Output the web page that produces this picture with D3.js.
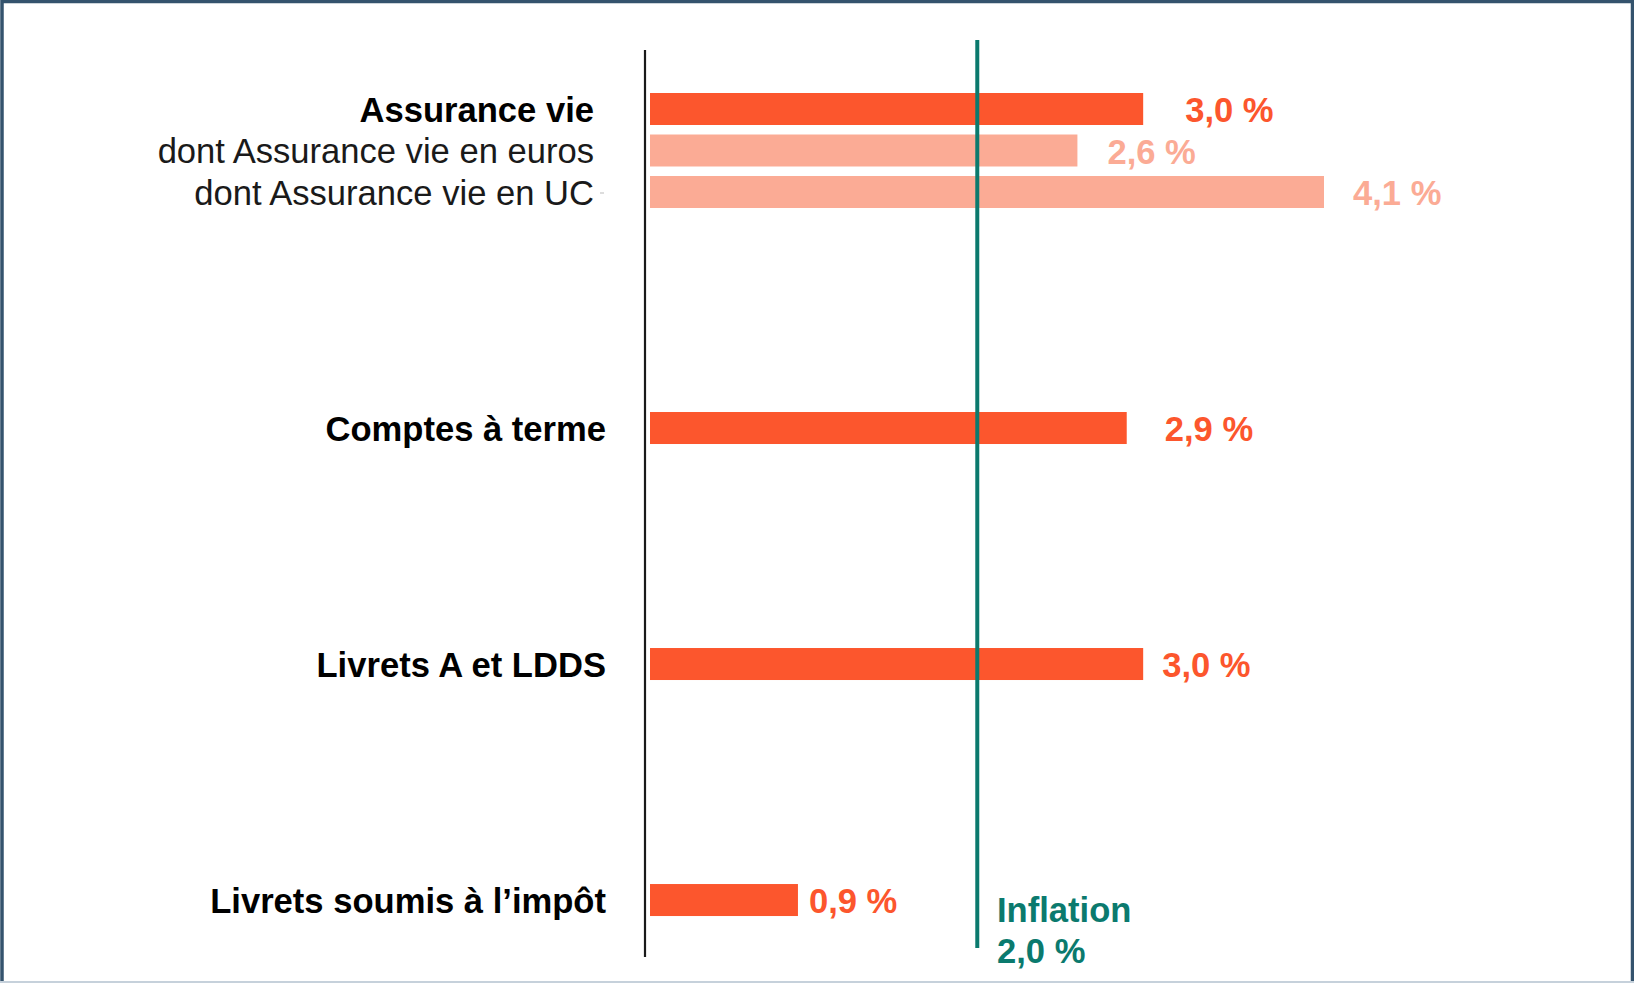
<!DOCTYPE html>
<html>
<head>
<meta charset="utf-8">
<script src="https://cdn.jsdelivr.net/npm/d3@7"></script>
<style>
  html, body { margin: 0; padding: 0; background: #fff; }
  svg { display: block; font-family: "Liberation Sans", Arial, sans-serif; }
</style>
</head>
<body>
<script>
// data
const rowLabels = [
  "Assurance vie",
  "dont Assurance vie en euros",
  "dont Assurance vie en UC",
  "Comptes à terme",
  "Livrets A et LDDS",
  "Livrets soumis à l’impôt"
];
const rowValues = [3.0, 2.6, 4.1, 2.9, 3.0, 0.9];
const rowGroup = [0, 0, 0, 1, 2, 3];
const rowIsSub = [false, true, true, false, false, false];
const valueLabels = ["3,0 %", "2,6 %", "4,1 %", "2,9 %", "3,0 %", "0,9 %"];
const inflationValue = 2.0;
const inflationLabels = ["Inflation", "2,0 %"];

// layout
const W = 1634, H = 983;
const labelGap = [42, 30, 29, 38, 19, 11];
const gapUnits = 4.687;   // blank space between groups, in row units
const barH = 32;
const fs = 34.6;

const colMain = "#fc562d";
const colLight = "#fbab95";
const colTeal = "#0b7a6e";

const svg = d3.select("body").append("svg")
  .attr("width", W)
  .attr("height", H);

svg.append("rect")
  .attr("width", W).attr("height", H)
  .attr("fill", "#fff");

// frame
svg.append("rect")
  .attr("x", 2).attr("y", 1.5)
  .attr("width", W - 3.5).attr("height", H + 10)
  .attr("fill", "none")
  .attr("stroke", "#34536d")
  .attr("stroke-width", 3.5);
svg.append("line")
  .attr("x1", 0).attr("x2", W)
  .attr("y1", H - 1).attr("y2", H - 1)
  .attr("stroke", "#c6d1db")
  .attr("stroke-width", 2);

const x = d3.scaleLinear().domain([0, 4.1]).range([650, 1324]);
const y = d3.scaleLinear().domain([0, 1]).range([93, 134.5]);

const rows = rowLabels.map((label, i) => ({
  label,
  value: rowValues[i],
  sub: rowIsSub[i],
  group: rowGroup[i],
  text: valueLabels[i],
  gap: labelGap[i],
  slot: i + rowGroup[i] * gapUnits
}));

const g = svg.append("g");

// bars
g.selectAll("rect.bar")
  .data(rows)
  .enter().append("rect")
  .attr("class", "bar")
  .attr("x", x(0))
  .attr("y", d => y(d.slot))
  .attr("width", d => x(d.value) - x(0))
  .attr("height", barH)
  .attr("fill", d => d.sub ? colLight : colMain);

// category labels
g.selectAll("text.cat")
  .data(rows)
  .enter().append("text")
  .attr("class", "cat")
  .attr("x", d => d.group === 0 ? 594 : 606)
  .attr("y", d => y(d.slot) + barH / 2 + 12.5)
  .attr("text-anchor", "end")
  .attr("font-size", fs)
  .attr("font-weight", d => d.sub ? "normal" : "bold")
  .attr("fill", d => d.sub ? "#1a1a1a" : "#000")
  .text(d => d.label);

// value labels
g.selectAll("text.val")
  .data(rows)
  .enter().append("text")
  .attr("class", "val")
  .attr("x", d => x(d.value) + d.gap)
  .attr("y", d => y(d.slot) + barH / 2 + 13)
  .attr("font-size", fs)
  .attr("font-weight", "bold")
  .attr("fill", d => d.sub ? colLight : colMain)
  .text(d => d.text);

// small stray tick next to the UC label
svg.append("line")
  .attr("x1", 600).attr("x2", 604)
  .attr("y1", 193).attr("y2", 193)
  .attr("stroke", "#bbb").attr("stroke-width", 1);

// zero axis
svg.append("line")
  .attr("x1", 645).attr("x2", 645)
  .attr("y1", 50).attr("y2", 957)
  .attr("stroke", "#1a1a1a")
  .attr("stroke-width", 2.2);

// inflation line
svg.append("line")
  .attr("x1", x(inflationValue) - 1.5).attr("x2", x(inflationValue) - 1.5)
  .attr("y1", 40).attr("y2", 948)
  .attr("stroke", colTeal)
  .attr("stroke-width", 4);

svg.selectAll("text.infl")
  .data(inflationLabels)
  .enter().append("text")
  .attr("class", "infl")
  .attr("x", 997)
  .attr("y", (d, i) => 922 + i * 41)
  .attr("font-size", fs)
  .attr("font-weight", "bold")
  .attr("fill", colTeal)
  .text(d => d);
</script>
</body>
</html>
